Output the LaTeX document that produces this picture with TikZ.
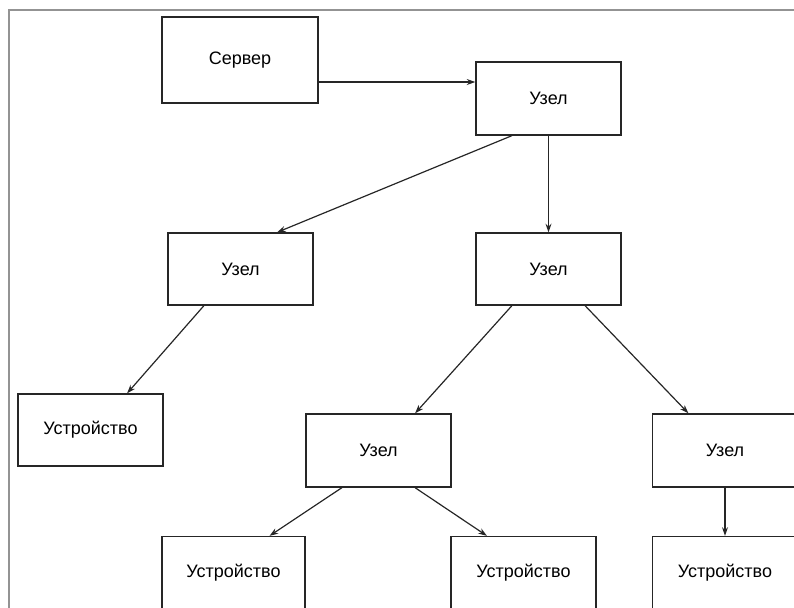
\documentclass[tikz,border=0pt]{standalone}
\usepackage{fontspec}
\setmainfont{Liberation Sans}
\usetikzlibrary{arrows.meta, positioning, calc}

\begin{document}
\begin{tikzpicture}[
    x=0.75pt, y=-0.75pt,
    font=\fontsize{13.5}{16}\selectfont,
    >={Stealth[length=6.5pt, width=4.5pt]},
    box/.style={rectangle, draw=black!85, line width=1pt, fill=white, minimum width=108.75pt, minimum height=54pt, inner sep=0pt},
    link/.style={->, draw=black!85, line width=0.9pt},
]
    \useasboundingbox (0,0) rectangle (794,608);
    \clip (0,0) rectangle (794,608);
    \draw[gray!85, line width=1.1pt] (9,10) rectangle (820,640);

    % server and the node tree
    \node[box, minimum width=117pt, minimum height=64.5pt] (server) at (240,60) {Сервер};
    \node[box, minimum height=54.75pt] (hub) at (548.5,98.5) {Узел};
    \node[box] (nodeL) at (240.5,269) {Узел};
    \node[box] (nodeC) at (548.5,269) {Узел};
    \node[box] (devL) at (90.5,430) {Устройство};
    \node[box, minimum height=54.75pt] (nodeM) at (378.5,450.5) {Узел};
    \node[box, minimum height=54.75pt] (nodeR) at (725,450.5) {Узел};

    % devices along the bottom
    \node[box, minimum width=107.25pt] (devA) at (233.5,572.5) {Устройство};
    \node[box] (devB) at (523.5,572.5) {Устройство};
    \node[box] (devC) at (725,572.5) {Устройство};

    % connections
    \draw[link] ([yshift=-16.5pt]server.east) coordinate (s) -- (s -| hub.west);
    \draw[link] ($(hub.south west)!0.25!(hub.south east)$) -- ($(nodeL.north west)!0.75!(nodeL.north east)$);
    \draw[link] (hub.south) -- (nodeC.north);
    \draw[link] ($(nodeL.south west)!0.25!(nodeL.south east)$) -- ($(devL.north west)!0.75!(devL.north east)$);
    \draw[link] ($(nodeC.south west)!0.25!(nodeC.south east)$) -- ($(nodeM.north west)!0.75!(nodeM.north east)$);
    \draw[link] ($(nodeC.south west)!0.75!(nodeC.south east)$) -- ($(nodeR.north west)!0.25!(nodeR.north east)$);
    \draw[link] ($(nodeM.south west)!0.25!(nodeM.south east)$) -- ($(devA.north west)!0.75!(devA.north east)$);
    \draw[link] ($(nodeM.south west)!0.75!(nodeM.south east)$) -- ($(devB.north west)!0.25!(devB.north east)$);
    \draw[link] (nodeR.south) -- (devC.north);
\end{tikzpicture}
\end{document}
